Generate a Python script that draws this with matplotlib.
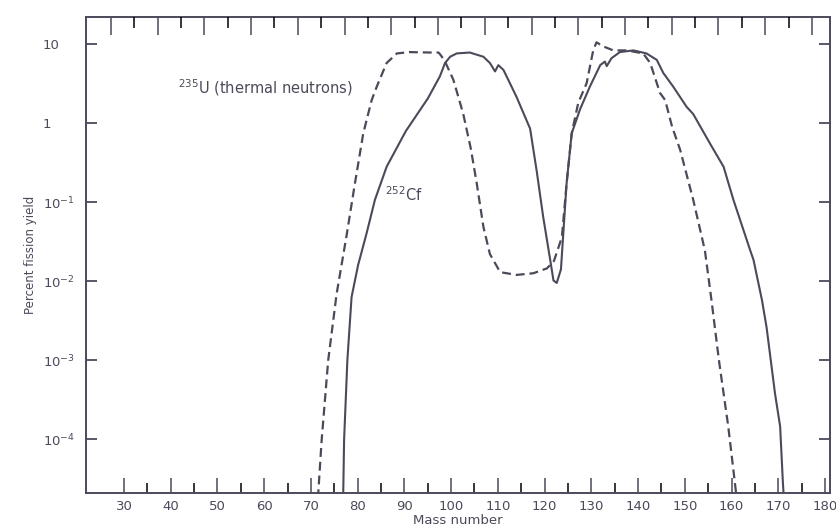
import numpy as np
import matplotlib
matplotlib.use("Agg")
import matplotlib.pyplot as plt
from matplotlib.ticker import FixedLocator, NullLocator

# 235U thermal neutron fission (dashed)
u235_mass = [71.5, 72.3, 73.7, 75.5, 77.7, 79.4, 81.2, 83.0, 84.1, 86.2, 88.4, 91.2, 95.5, 97.3,
             97.8, 98.7, 100.5, 102.6, 104.2, 105.5, 106.9, 108.3, 110.5, 114.0, 117.6, 120.5,
             122.0, 123.7, 124.7, 125.8, 127.2, 129.0, 130.4, 131.1, 132.6, 134.7, 137.6, 141.1,
             142.6, 144.7, 145.8, 147.3, 149.0, 151.8, 154.3, 155.7, 157.3, 159.3, 161.1]
u235_yield = [1.8e-5, 9.8e-5, 1.0e-3, 6.9e-3, 0.040, 0.17, 0.74, 1.95, 2.9, 5.75, 7.6, 7.9, 7.8, 7.8,
              7.2, 6.0, 3.5, 1.3, 0.48, 0.17, 0.049, 0.022, 0.013, 0.012, 0.0126, 0.0145,
              0.018, 0.036, 0.17, 0.74, 1.8, 3.2, 8.3, 10.5, 9.3, 8.3, 8.3, 7.6,
              5.75, 2.4, 1.95, 0.89, 0.46, 0.107, 0.0245, 0.0058, 0.001, 1.45e-4, 1.8e-5]

# 252Cf spontaneous fission (solid)
cf252_mass = [76.9, 77.1, 77.8, 78.7, 80.1, 81.9, 83.7, 86.2, 90.3, 95.0, 97.6, 98.7, 99.8, 101.2,
              104.0, 106.9, 108.3, 109.4, 110.1, 111.2, 114.0, 116.9, 118.3, 119.7, 121.2, 121.9,
              122.6, 123.5, 124.0, 124.7, 125.8, 127.6, 129.7, 131.9, 132.9, 133.3, 134.3, 136.1,
              139.0, 141.8, 144.0, 145.4, 147.5, 150.4, 151.8, 155.4, 158.3, 160.4, 164.0, 164.7,
              166.5, 167.5, 169.3, 170.4, 171.0, 171.2]
cf252_yield = [1.8e-5, 9.8e-5, 1.0e-3, 6.3e-3, 0.016, 0.040, 0.107, 0.28, 0.79, 2.04, 3.9, 5.75, 6.9, 7.6,
               7.8, 6.9, 5.75, 4.5, 5.4, 4.7, 2.14, 0.85, 0.25, 0.065, 0.0186, 0.0102,
               0.0095, 0.0141, 0.040, 0.17, 0.74, 1.5, 2.9, 5.4, 6.0, 5.25, 6.6, 7.9,
               8.3, 7.6, 6.3, 4.3, 2.9, 1.6, 1.3, 0.55, 0.28, 0.107, 0.0245, 0.0186,
               0.0058, 0.0026, 3.8e-4, 1.45e-4, 2.75e-5, 1.8e-5]

xticks = list(range(30, 181, 10))
xminor = list(range(35, 186, 10))
# the top scale of the scan sits a little to the left of the bottom one
top_major = [27.2 + 10 * k for k in range(16)]
top_minor = [32.2 + 10 * k for k in range(15)]
yticks = [1e-4, 1e-3, 1e-2, 1e-1, 1, 10]
ytick_labels = [r"$10^{-4}$", r"$10^{-3}$", r"$10^{-2}$", r"$10^{-1}$", "1", "10"]

ink = "#4a4a5a"

fig = plt.figure(figsize=(8.36, 5.29), dpi=100)
ax = fig.add_axes([0.103, 0.068, 0.890, 0.900])

ax.plot(u235_mass, u235_yield, color=ink, lw=1.6, dashes=(4, 2.2))
ax.plot(cf252_mass, cf252_yield, color=ink, lw=1.5)

ax.set_yscale("log")
ax.set_xlim(21.9, 181.1)
ax.set_ylim(2.09e-5, 22)

ax.yaxis.set_major_locator(FixedLocator(yticks))
ax.yaxis.set_minor_locator(NullLocator())
ax.set_yticklabels(ytick_labels, ha="left")
ax.xaxis.set_major_locator(FixedLocator(xticks))
ax.xaxis.set_minor_locator(FixedLocator(xminor))

ax.tick_params(axis="y", which="major", direction="in", length=8, width=1.3,
               left=True, right=True, pad=31, labelsize=9.5, colors=ink)
ax.tick_params(axis="x", which="major", direction="in", length=11, width=1.1,
               top=False, bottom=True, pad=5, labelsize=9.5, colors=ink)
ax.tick_params(axis="x", which="minor", direction="in", length=7, width=1.1,
               top=False, bottom=True)
for s in ax.spines.values():
    s.set_color(ink)
    s.set_linewidth(1.4)

top = ax.twiny()
top.set_xlim(ax.get_xlim())
top.xaxis.set_major_locator(FixedLocator(top_major))
top.xaxis.set_minor_locator(FixedLocator(top_minor))
top.tick_params(axis="x", which="major", direction="in", length=13, width=1.1,
                top=True, labeltop=False, colors=ink)
top.tick_params(axis="x", which="minor", direction="in", length=8, width=1.1, top=True)
for s in top.spines.values():
    s.set_visible(False)

ax.text(41.6, 2.77, r"$^{235}$U (thermal neutrons)", fontsize=10.5, color=ink, ha="left", va="center")
ax.text(85.9, 0.123, r"$^{252}$Cf", fontsize=10.5, color=ink, ha="left", va="center")

ax.set_xlabel("Mass number", fontsize=9.5, color=ink, labelpad=1)
ax.set_ylabel("Percent fission yield", fontsize=8.5, color=ink, labelpad=4)

fig.savefig("out.png", dpi=100)
